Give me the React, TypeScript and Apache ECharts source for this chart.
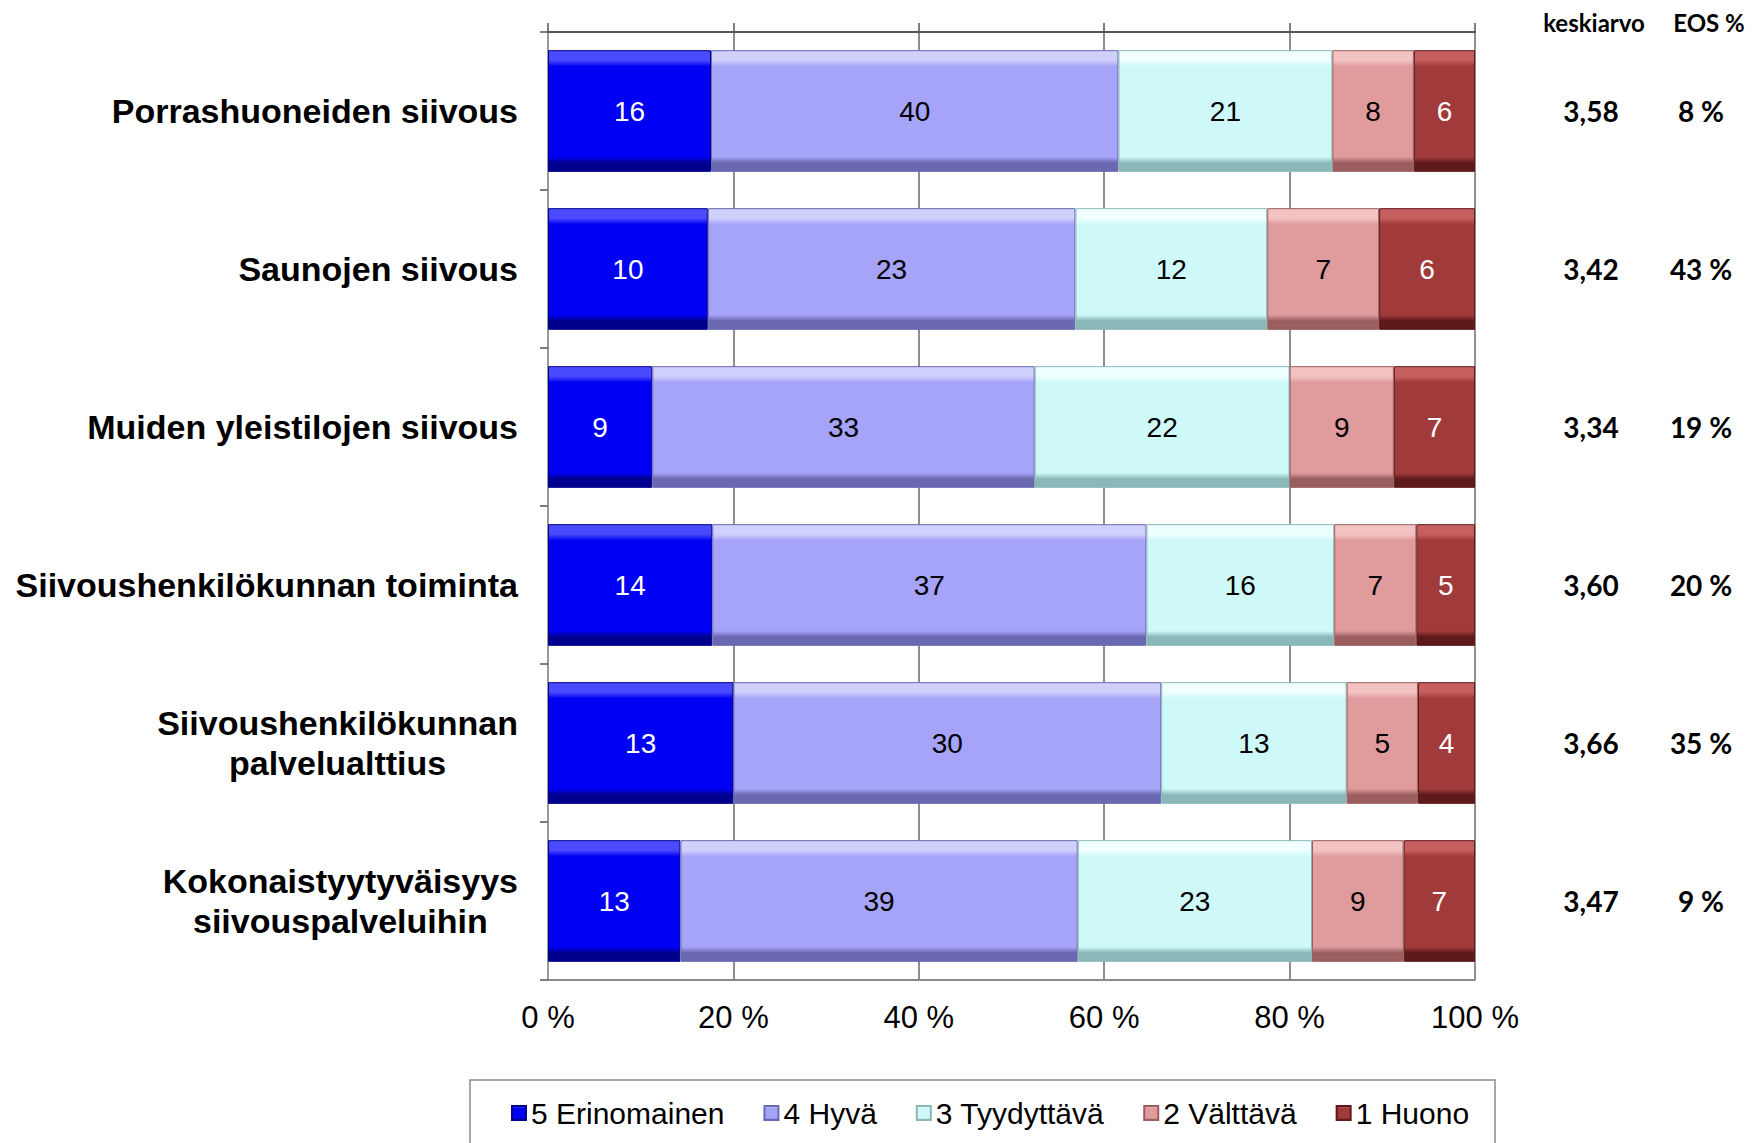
import React, { useEffect, useRef } from "react";
import * as echarts from "echarts";

const categories = [
  "Porrashuoneiden siivous",
  "Saunojen siivous",
  "Muiden yleistilojen siivous",
  "Siivoushenkilökunnan toiminta",
  "Siivoushenkilökunnan\npalvelualttius",
  "Kokonaistyytyväisyys\nsiivouspalveluihin",
];

const seriesNames = ["5 Erinomainen", "4 Hyvä", "3 Tyydyttävä", "2 Välttävä", "1 Huono"];

const erinomainen = [16, 10, 9, 14, 13, 13];
const hyva = [40, 23, 33, 37, 30, 39];
const tyydyttava = [21, 12, 22, 16, 13, 23];
const valttava = [8, 7, 9, 7, 5, 9];
const huono = [6, 6, 7, 5, 4, 7];

const keskiarvo = ["3,58", "3,42", "3,34", "3,60", "3,66", "3,47"];
const eosPct = ["8 %", "43 %", "19 %", "20 %", "35 %", "9 %"];

const xTicks = [0, 20, 40, 60, 80, 100];

const counts = [erinomainen, hyva, tyydyttava, valttava, huono];

// styles
const palette = [
  { light: "#4a4aff", base: "#0000f4", dark: "#00008c", label: "#ffffff" },
  { light: "#d0d0fd", base: "#a6a4f9", dark: "#6a68b0", label: "#000000" },
  { light: "#f0ffff", base: "#cff9f9", dark: "#8ab8b8", label: "#000000" },
  { light: "#f3c3c3", base: "#e09c9c", dark: "#9a5e5e", label: "#000000" },
  { light: "#c66060", base: "#a13b3b", dark: "#5e1a1a", label: "#ffffff" },
];

const FONT = "Arial, 'Liberation Sans', sans-serif";
const CAL = "Lato, 'Open Sans', sans-serif";

export default function App() {
  const ref = useRef<HTMLDivElement>(null);

  useEffect(() => {
    if (!ref.current) return;
    const chart = echarts.init(ref.current, undefined, { renderer: "svg" });

    const totals = categories.map((_, i) => counts.reduce((s, arr) => s + arr[i], 0));

    const series = counts.map((arr, s) => {
      const p = palette[s];
      return {
        name: seriesNames[s],
        type: "bar",
        stack: "total",
        xAxisIndex: 0,
        yAxisIndex: 0,
        barCategoryGap: "23%",
        data: arr.map((v, i) => (v / totals[i]) * 100),
        itemStyle: {
          color: {
            type: "linear",
            x: 0,
            y: 0,
            x2: 0,
            y2: 1,
            colorStops: [
              { offset: 0, color: p.light },
              { offset: 0.08, color: p.light },
              { offset: 0.13, color: p.base },
              { offset: 0.88, color: p.base },
              { offset: 0.93, color: p.dark },
              { offset: 1, color: p.dark },
            ],
          },
          borderColor: p.dark,
          borderWidth: 1,
        },
        label: {
          show: true,
          position: "inside",
          color: p.label,
          fontSize: 28,
          fontFamily: FONT,
          formatter: (prm: any) => String(arr[prm.dataIndex]),
        },
        emphasis: { disabled: true },
      };
    });

    chart.setOption({
      animation: false,
      backgroundColor: "#ffffff",
      grid: { left: 548, right: 285, top: 32, bottom: 163 },
      legend: {
        left: 506,
        top: 1093,
        itemWidth: 14,
        itemHeight: 14,
        itemGap: 39,
        icon: "rect",
        textStyle: { fontSize: 30, fontFamily: FONT, color: "#000" },
        data: seriesNames,
        selectedMode: false,
      },
      xAxis: [
        {
          type: "value",
          position: "bottom",
          min: 0,
          max: 100,
          interval: 20,
          axisLine: { show: true, lineStyle: { color: "#8a8a8a", width: 2 } },
          axisTick: { show: false },
          axisLabel: {
            margin: 22,
            fontSize: 31,
            fontFamily: FONT,
            color: "#000",
            formatter: (v: number) => (xTicks.includes(v) ? `${v} %` : ""),
          },
          splitLine: { show: true, lineStyle: { color: "#6a6a6a", width: 1.5 } },
        },
        {
          type: "value",
          position: "top",
          min: 0,
          max: 100,
          interval: 20,
          axisLine: { show: true, lineStyle: { color: "#555", width: 2 } },
          axisTick: { show: true, length: 9, lineStyle: { color: "#555", width: 1.5 } },
          axisLabel: { show: false },
          splitLine: { show: false },
        },
      ],
      yAxis: [
        {
          type: "category",
          data: categories,
          inverse: true,
          position: "left",
          axisLine: { show: true, lineStyle: { color: "#555", width: 2 } },
          axisTick: { show: true, length: 8, lineStyle: { color: "#555", width: 1.5 } },
          axisLabel: {
            margin: 30,
            formatter: (v: string) =>
              v
                .split("\n")
                .map((l) => `{c|${l}}`)
                .join("\n"),
            rich: {
              c: {
                fontSize: 34,
                fontWeight: "bold",
                fontFamily: FONT,
                color: "#000",
                align: "center",
                lineHeight: 40,
              },
            },
          },
        },
        {
          type: "category",
          data: categories,
          inverse: true,
          position: "right",
          axisLine: { show: true, lineStyle: { color: "#999", width: 2 } },
          axisTick: { show: false },
          axisLabel: {
            margin: 66,
            align: "left",
            formatter: (_v: string, idx: number) => `{a|${keskiarvo[idx]}}{b|${eosPct[idx]}}`,
            rich: {
              a: {
                width: 100,
                align: "center",
                fontSize: 28,
                fontWeight: "bold",
                fontFamily: CAL,
                color: "#000",
              },
              b: {
                width: 120,
                align: "center",
                fontSize: 28,
                fontWeight: "bold",
                fontFamily: CAL,
                color: "#000",
              },
            },
          },
        },
      ],
      graphic: [
        {
          type: "rect",
          shape: { x: 470, y: 1080, width: 1025, height: 90 },
          style: { fill: "none", stroke: "#8c8c8c", lineWidth: 1.5 },
          silent: true,
        },
        {
          type: "text",
          x: 1594,
          y: 22,
          style: {
            text: "keskiarvo",
            fontSize: 24,
            fontWeight: "bold",
            fontFamily: CAL,
            fill: "#000",
            align: "center",
            verticalAlign: "middle",
          },
        },
        {
          type: "text",
          x: 1709,
          y: 22,
          style: {
            text: "EOS %",
            fontSize: 24,
            fontWeight: "bold",
            fontFamily: CAL,
            fill: "#000",
            align: "center",
            verticalAlign: "middle",
          },
        },
      ],
      series,
    });

    return () => chart.dispose();
  }, []);

  return (
    <div
      ref={ref}
      style={{ position: "absolute", left: 0, top: 0, width: 1760, height: 1143 }}
    />
  );
}
